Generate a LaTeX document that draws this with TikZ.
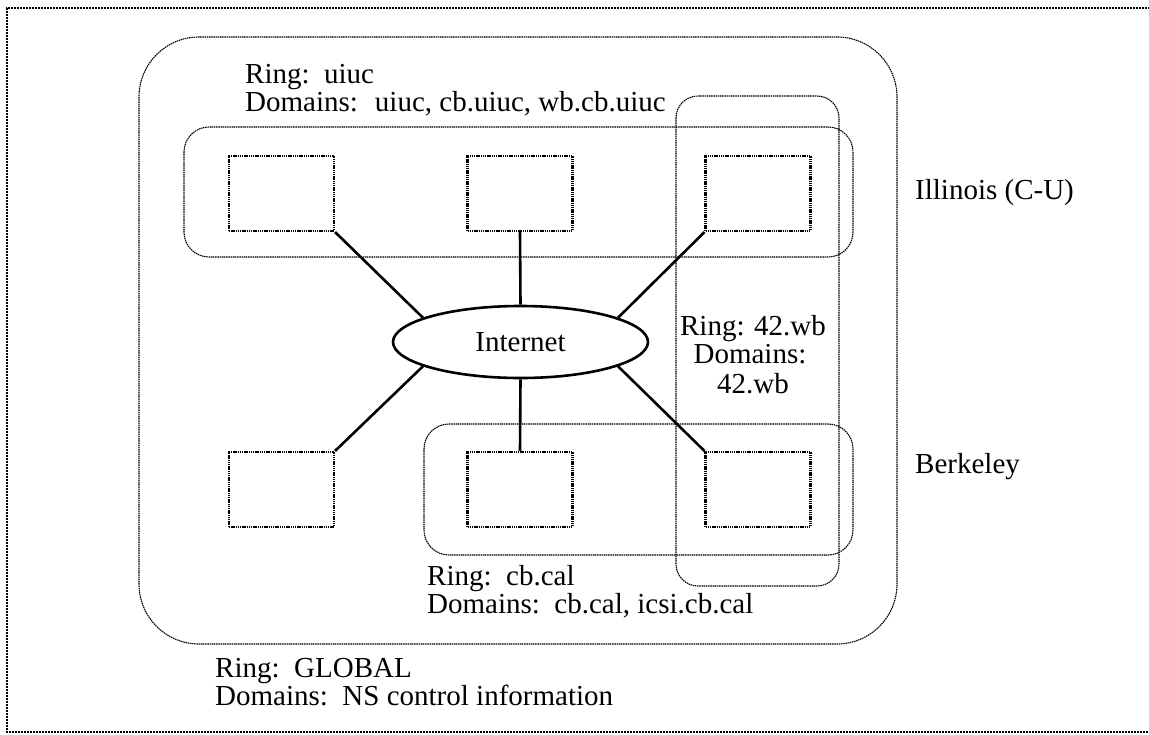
\documentclass[tikz,border=0pt]{standalone}
\usepackage{fontspec}
\setmainfont{Liberation Serif}
\usetikzlibrary{shapes.geometric}
\tikzset{
  ring/.style={draw=black, line width=1.1pt, dash pattern=on 1.5pt off 0.7pt, rounded corners=#1},
  ring/.default=25pt,
  hostbox/.style={draw=black, line width=2.2pt, dash pattern=on 1.4pt off 0.8pt, minimum width=105pt, minimum height=75pt, inner sep=0pt},
  frame/.style={draw=black, line width=2.2pt, dash pattern=on 2pt off 1pt},
  link/.style={draw=black, line width=2.6pt},
  lbl/.style={anchor=base west, inner sep=0pt, font=\fontsize{29}{30}\selectfont},
  clbl/.style={anchor=base, inner sep=0pt, font=\fontsize{29}{30}\selectfont},
}
\begin{document}
\begin{tikzpicture}[x=1pt, y=-1pt]
\useasboundingbox (0,0) rectangle (1149,734);
\fill[white] (0,0) rectangle (1149,734);
% outer frame (right edge lies beyond the page)
\draw[frame] (1165,8) -- (7,8) -- (7,732) -- (1165,732);
% rings
\draw[ring=60pt] (139,37) rectangle (897,644);
\draw[ring=25pt] (184,127) rectangle (853,257);
\draw[ring=22pt] (676,96) rectangle (839,586);
\draw[ring=25pt] (424,424) rectangle (853,555);
% hosts
\node[hostbox] (b1) at (281.5,193.5) {};
\node[hostbox] (b2) at (520,193.5) {};
\node[hostbox] (b3) at (758,193.5) {};
\node[hostbox] (b4) at (281.5,489.5) {};
\node[hostbox] (b5) at (520,489.5) {};
\node[hostbox] (b6) at (758,489.5) {};
% internet
\node[ellipse, draw=black, line width=2.6pt, fill=white, minimum width=255pt, minimum height=72pt, inner sep=0pt, font=\fontsize{29}{30}\selectfont] (e) at (520.5,342) {Internet};
% links
\draw[link] (b1.south east) -- (e.166);
\draw[link] (b2.south) -- (e.north);
\draw[link] (b3.south west) -- (e.14);
\draw[link] (b4.north east) -- (e.194);
\draw[link] (b5.north) -- (e.south);
\draw[link] (b6.north west) -- (e.346);
% labels
\node[lbl] (uR) at (245,83) {Ring:\ \ uiuc};
\node[lbl] (uD) at (245,111) {Domains:\hspace{17pt}uiuc, cb.uiuc, wb.cb.uiuc};
\node[lbl] (ill) at (915,199) {Illinois (C-U)};
\node[lbl] (ber) at (915,473) {Berkeley};
\node[clbl] (wR) at (753,335) {Ring: 42.wb};
\node[clbl] (wD) at (750,363) {Domains:};
\node[clbl] (wV) at (753,393) {42.wb};
\node[lbl] (cR) at (427,585) {Ring:\ \ cb.cal};
\node[lbl] (cD) at (427,613) {Domains:\ \ cb.cal, icsi.cb.cal};
\node[lbl] (gR) at (215,677) {Ring:\ \ GLOBAL};
\node[lbl] (gD) at (215,705) {Domains:\ \ NS control information};
\end{tikzpicture}
\end{document}
